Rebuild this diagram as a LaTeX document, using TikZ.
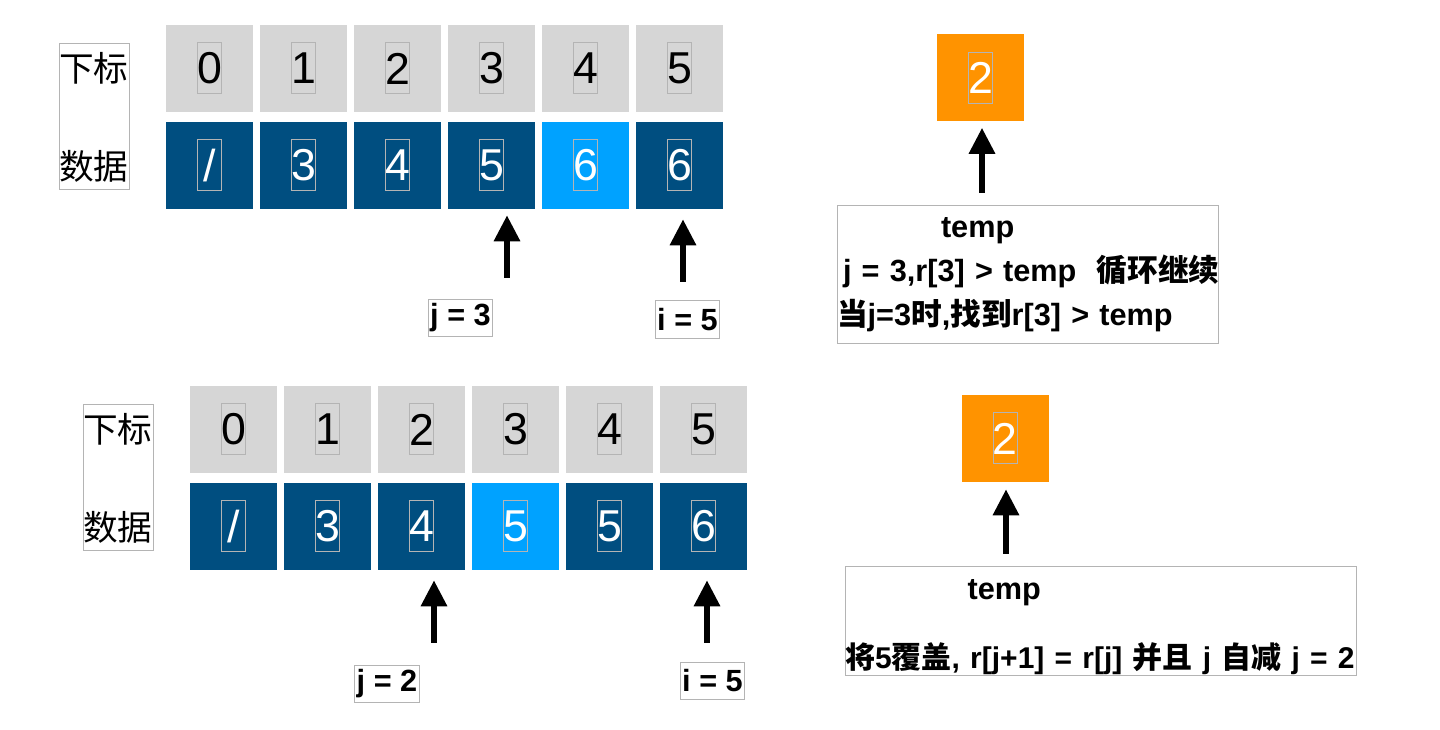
\documentclass[tikz,border=0pt]{standalone}
\usepackage{fontspec}
\setmainfont{Liberation Sans}
\newfontfamily\cjk{Noto Sans CJK SC}
\usepackage{xcolor}
\usepackage{tikz}
\usetikzlibrary{arrows.meta}

\definecolor{idxgray}{HTML}{D6D6D6}
\definecolor{datblue}{HTML}{004E80}
\definecolor{curblue}{HTML}{00A2FF}
\definecolor{tmporange}{HTML}{FF9300}
\definecolor{framegray}{HTML}{B4B4B4}

\begin{document}
\begin{tikzpicture} [
    x=0.75pt, y=-0.75pt,
    cell/.style={rectangle, minimum size=65.25pt, inner sep=0pt, font=\fontsize{33.5}{40}\selectfont,
        path picture={\draw[framegray, line width=0.6pt] ([shift={(-9pt,-19pt)}]path picture bounding box.center) rectangle ++(18pt,38.25pt);}},
    idx/.style={cell, fill=idxgray, text=black},
    dat/.style={cell, fill=datblue, text=white},
    tmpval/.style={cell, fill=tmporange, text=white},
    rowname/.style={rectangle, draw=framegray, line width=0.75pt, align=left, inner sep=0pt, text width=52.5pt, minimum height=109.5pt, font=\cjk\fontsize{26}{73.5}\selectfont},
    ptrlabel/.style={rectangle, draw=framegray, line width=0.75pt, inner sep=1.5pt, minimum height=28pt, font=\bfseries\fontsize{23}{28}\selectfont},
    note/.style={rectangle, draw=framegray, line width=0.75pt, align=left, inner sep=0pt, font=\bfseries\fontsize{23}{33}\selectfont},
    ptr/.style={line width=4.5pt, -{Triangle[width=18.75pt, length=19.5pt]}, shorten >=4.5pt}
]
\useasboundingbox (0,0) rectangle (1440,730);

% First step
\node[rowname] (tname) at (94,117) {下标\\数据};
\foreach \i in {0,...,5}
    \node[idx] (tidx\i) at ({209.5+94*\i},68.5) {\i};
\foreach \v/\c [count=\i from 0] in {\slash/datblue, 3/datblue, 4/datblue, 5/datblue, 6/curblue, 6/datblue}
    \node[dat, fill=\c] (tdat\i) at ({209.5+94*\i},165.5) {\v};
\node[ptrlabel] (tj) at (460.5,318) {j = 3};
\node[ptrlabel] (ti) at (687.5,319.5) {i = 5};
\node[tmpval] (ttmp) at (980.5,78) {2};
\node[note, text width=285.75pt, minimum height=103.5pt] (tnote) at (1027.5,275)
    {\hspace*{78pt}temp\\
     \mbox{\hspace*{4.5pt}j = 3,r[3] > temp\ \ {\cjk 循环继续}}\\
     \mbox{{\cjk 当}j=3{\cjk 时},{\cjk 找到}r[3] > temp}};

% Second step
\node[rowname] (bname) at (118,478) {下标\\数据};
\foreach \i in {0,...,5}
    \node[idx] (bidx\i) at ({233.5+94*\i},429.5) {\i};
\foreach \v/\c [count=\i from 0] in {\slash/datblue, 3/datblue, 4/datblue, 5/curblue, 5/datblue, 6/datblue}
    \node[dat, fill=\c] (bdat\i) at ({233.5+94*\i},526.5) {\v};
\node[ptrlabel] (bj) at (387,684) {j = 2};
\node[ptrlabel] (bi) at (712.5,681) {i = 5};
\node[tmpval] (btmp) at (1005,438.5) {2};
\node[note, text width=383.25pt, minimum height=81.75pt] (bnote) at (1100.5,621.5)
    {\rule{0pt}{24pt}\hspace*{92pt}temp\\[18.75pt]
     \mbox{\fontsize{22.5}{33}\selectfont{\cjk 将}5{\cjk 覆盖}, r[j+1] = r[j] {\cjk 并且} j {\cjk 自减} j = 2}};

% Pointers
\coordinate (tjt) at (507,278);
\coordinate (tit) at (683,282);
\coordinate (ttt) at (982,193);
\coordinate (bjt) at (434,643);
\coordinate (bit) at (707,643);
\coordinate (btt) at (1006,554);
\draw[ptr] (tjt) -- (tjt |- tdat3.south);
\draw[ptr, shorten >=7.5pt] (tit) -- (tit |- tdat5.south);
\draw[ptr] (ttt) -- (ttt |- ttmp.south);
\draw[ptr, shorten >=7.5pt] (bjt) -- (bjt |- bdat2.south);
\draw[ptr, shorten >=7.5pt] (bit) -- (bit |- bdat5.south);
\draw[ptr, shorten >=5.25pt] (btt) -- (btt |- btmp.south);

\end{tikzpicture}
\end{document}
